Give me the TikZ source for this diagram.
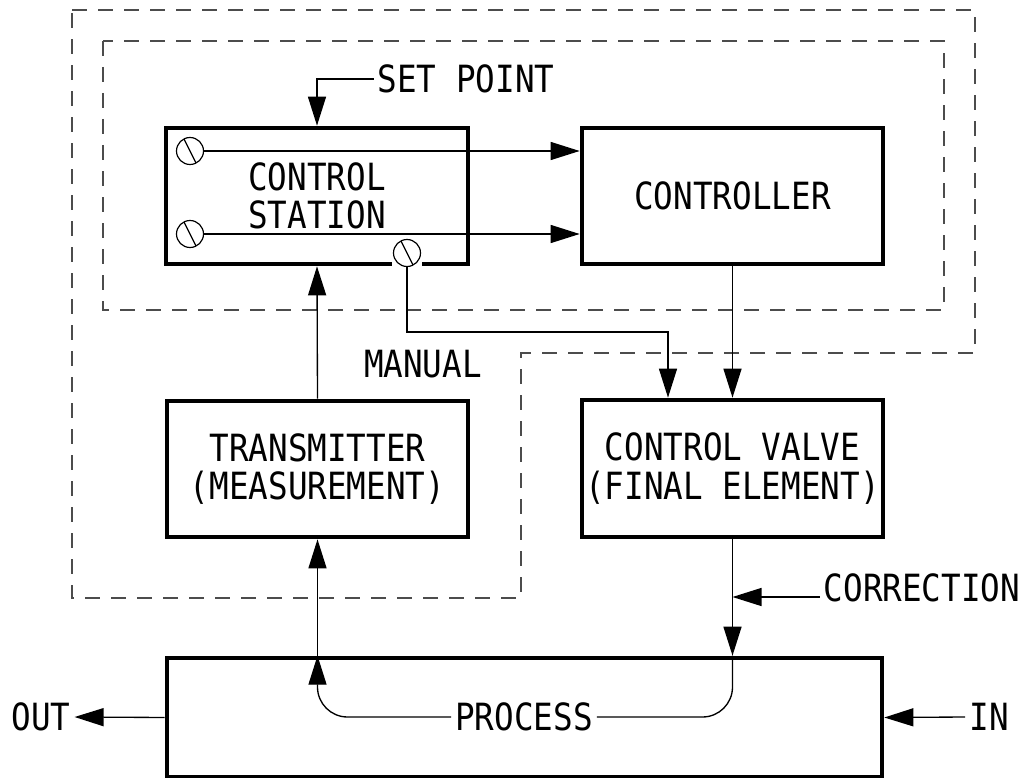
\documentclass[tikz,border=0pt]{standalone}
\usepackage{fontspec}
\setmonofont[FakeStretch=0.87]{DejaVu Sans Mono}
\usetikzlibrary{arrows.meta}
\tikzset{
  box/.style={draw, line width=1.4mm, inner sep=0pt, align=center},
  knob/.style={circle, draw, fill=white, line width=0.35mm, minimum size=8.1mm, inner sep=0pt,
    path picture={\draw[line width=0.35mm] ([shift={(-1.9mm,3.8mm)}]path picture bounding box.center) -- ++(3.8mm,-7.6mm);}},
  sig/.style={line width=0.4mm, -{Triangle[length=8.7mm,width=5.4mm]}},
  zone/.style={line width=0.45mm, black!70, dash pattern=on 4.5mm off 3.3mm}
}
\begin{document}
\begin{tikzpicture}[x=0.3mm, y=-0.3mm, font=\ttfamily\fontsize{32}{33}\selectfont]
  \useasboundingbox (0,0) rectangle (1026,778);
  % dashed zones
  \draw[zone] (72,10) -- (975,10) -- (975,353) -- (521,353) -- (521,598) -- (72,598) -- cycle;
  \draw[zone] (103,41) rectangle (944,310);
  % blocks
  \node[box, minimum width=90.6mm, minimum height=40.8mm] (station) at (317,196) {CONTROL\\STATION};
  \node[box, minimum width=90.3mm, minimum height=40.8mm] (ctrl) at (732.5,196) {CONTROLLER};
  \node[box, minimum width=90.3mm, minimum height=40.8mm] (trans) at (317.5,469) {TRANSMITTER\\(MEASUREMENT)};
  \node[box, minimum width=90.3mm, minimum height=41.1mm] (valve) at (732.5,468.5) {CONTROL VALVE\\(FINAL ELEMENT)};
  \node[box, minimum width=214.5mm, minimum height=35.7mm] (proc) at (524.5,717.5) {};
  % knobs on the control station
  \node[knob] (k1) at (190,151) {};
  \node[knob] (k2) at (190,234) {};
  \fill[white] ([shift={(-15,0)}]407,253) rectangle ([shift={(15,16)}]407,253);
  \node[knob] (k3) at (407,253) {};
  % labels
  \node (sp) at (466,79) {SET POINT};
  \node (manual) at (423,364) {MANUAL};
  \node (ptxt) at (524,717) {PROCESS};
  \node (corr) at (922,588) {CORRECTION};
  \node (out) at (41,717) {OUT};
  \node (inlbl) at (989,717) {IN};
  \coordinate (mj) at (668,332);
  \coordinate (cs) at ([yshift=-2.7mm]corr.west);
  % signals
  \draw[sig] (sp.west) -| (station.north);
  \draw[sig] (k1.east) -- (k1.east -| ctrl.west);
  \draw[sig] (k2.east) -- (k2.east -| ctrl.west);
  \draw[sig] (k3.south) |- (mj) -- (mj |- valve.north);
  \draw[sig] (ctrl.south) -- (valve.north);
  \draw[sig] (trans.north) -- (station.south);
  \draw[sig] (trans.south |- proc.north) -- (trans.south);
  \draw[sig, rounded corners=9mm] (ptxt.west) -| (trans.south |- proc.north);
  \draw[sig] (valve.south) -- (valve.south |- proc.north);
  \draw[line width=0.4mm, rounded corners=9mm] (valve.south |- proc.north) |- (ptxt.east);
  \draw[sig] (cs) -- (cs -| valve.south);
  \draw[sig] (proc.west) -- (out.east);
  \draw[sig] (inlbl.west) -- (proc.east);
\end{tikzpicture}
\end{document}
